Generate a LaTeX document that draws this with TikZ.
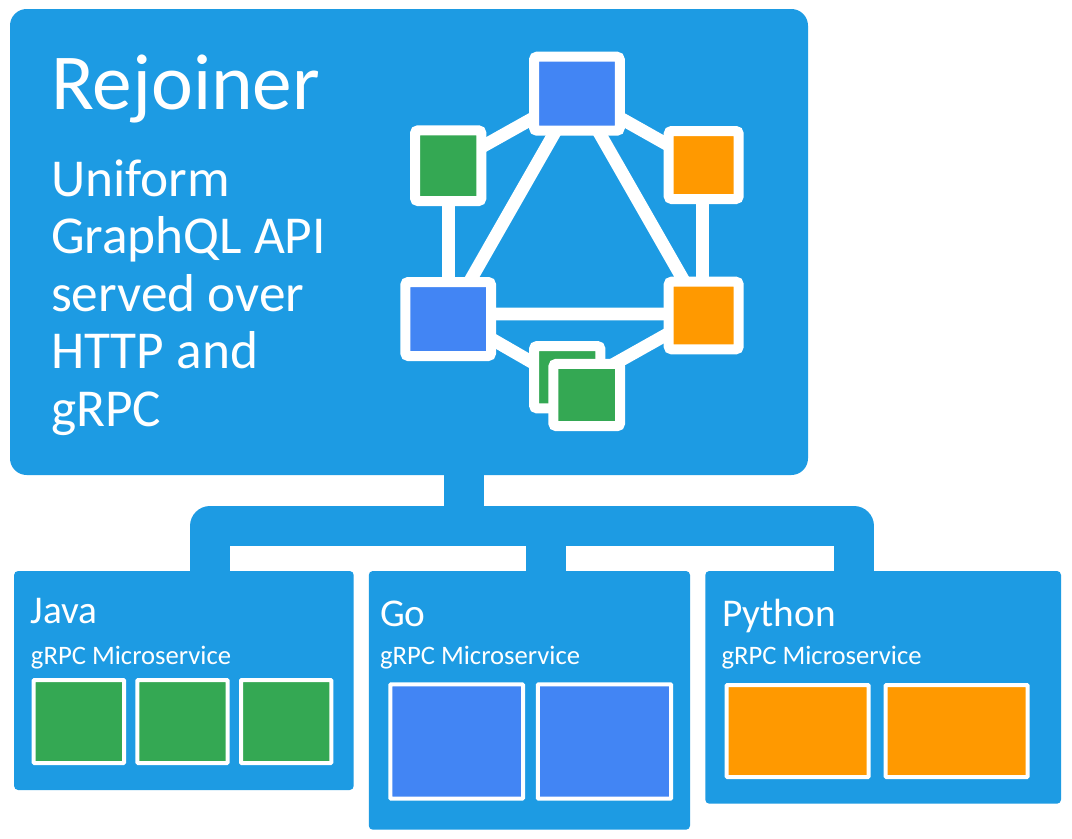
\documentclass[tikz,border=0pt]{standalone}
\usepackage{fontspec}
\setmainfont{Carlito}
\definecolor{panelblue}{HTML}{1D9BE3}
\definecolor{gblue}{HTML}{4285F4}
\definecolor{ggreen}{HTML}{34A853}
\definecolor{gorange}{HTML}{FF9900}
\pgfdeclarelayer{back}
\pgfdeclarelayer{mid}
\pgfsetlayers{back,mid,main}
\tikzset{
  px/.style 2 args={minimum width=#1*0.75pt, minimum height=#2*0.75pt},
  panel/.style={rectangle, fill=panelblue, inner sep=0pt, outer sep=0pt, rounded corners=3pt},
  sq/.style={rectangle, draw=white, line width=7.5pt, inner sep=0pt, outer sep=0pt, rounded corners=2.2pt},
  tile/.style={rectangle, draw=white, line width=3pt, inner sep=0pt, outer sep=0pt, rounded corners=0.6pt},
  edge/.style={draw=white, line width=9.6pt},
  link/.style={draw=panelblue, line width=30pt, line join=round},
  txt/.style={text=white, inner sep=0pt, outer sep=0pt, anchor=base west},
}
\begin{document}
\begin{tikzpicture}[x=0.75pt,y=-0.75pt]
\useasboundingbox (0,0) rectangle (1072,839);
\begin{pgfonlayer}{back}
  \fill[white] (0,0) rectangle (1072,839);
  \node[panel, rounded corners=12.5pt, px={798}{466}] (main) at (409,242) {};
  \node[panel, px={339.6}{219}] (java) at (183.9,680.5) {};
  \node[panel, px={321.2}{258.7}] (go) at (529.4,700.35) {};
  \node[panel, px={355.7}{232.7}] (python) at (883.15,687.35) {};
  \coordinate (jx) at (210,526);
  \coordinate (gx) at (546.3,526);
  \coordinate (hx) at (464,526);
  \coordinate (fx) at (854,526);
  \draw[link] (java.north -| jx) -- (jx) -- (fx) -- (python.north -| fx);
  \draw[link] (main.south -| hx) -- (hx);
  \draw[link] (gx) -- (go.north -| gx);
\end{pgfonlayer}

\node[sq, fill=gblue, px={85.7}{74}] (top) at (576.9,93.7) {};
\node[sq, fill=ggreen, px={66.3}{70.7}] (gl) at (448.2,165.7) {};
\node[sq, fill=gorange, px={70}{68}] (ot) at (703.7,165) {};
\node[sq, fill=gblue, px={85.7}{74}] (bl) at (448.2,319) {};
\node[sq, fill=gorange, px={70}{67.6}] (ol) at (703.7,315.5) {};
\node[sq, fill=ggreen, px={66.3}{62.3}] (gb) at (567.2,377.2) {};
\node[sq, fill=ggreen, px={66.7}{62.3}] (gf) at (586.7,395) {};

\begin{pgfonlayer}{mid}
  \draw[edge] (gl) -- (top);
  \draw[edge] (top) -- (ot);
  \draw[edge] (gl.center) -- (bl.center);
  \draw[edge] ([xshift=-1pt]ot.center) -- ([xshift=-1pt]ol.center);
  \draw[edge] (top.center) -- (bl.center);
  \draw[edge] (top.center) -- (ol.center);
  \draw[edge] ([yshift=3.75pt]bl.center) -- ([yshift=1.1pt]ol.center);
  \draw[edge] ([yshift=3.75pt]bl.center) -- ([yshift=-4pt]gb.center);
  \draw[edge] ([yshift=1.35pt]ol.center) -- ([yshift=11.7pt]gf.center);
\end{pgfonlayer}

\node[tile, fill=ggreen, px={90.3}{83}] (j1) at (78.85,721.5) {};
\node[tile, fill=ggreen, px={90.4}{83}] (j2) at (182.5,721.5) {};
\node[tile, fill=ggreen, px={90.3}{83}] (j3) at (286.15,721.5) {};
\node[tile, fill=gblue, px={132.6}{114.4}] (g1) at (456.7,741.5) {};
\node[tile, fill=gblue, px={133.2}{114.4}] (g2) at (604.5,741.5) {};
\node[tile, fill=gorange, px={141.9}{92}] (p1) at (797.55,731) {};
\node[tile, fill=gorange, px={141.9}{92}] (p2) at (956.55,731) {};

\node[txt, font=\fontsize{59.5}{60}\selectfont] (title) at (51,109) {Rejoiner};
\node[txt, font=\fontsize{40}{40}\selectfont] (d1) at (51,196) {Uniform};
\node[txt, font=\fontsize{40}{40}\selectfont] (d2) at (51,253) {GraphQL API};
\node[txt, font=\fontsize{40}{40}\selectfont] (d3) at (51,311) {served over};
\node[txt, font=\fontsize{40}{40}\selectfont] (d4) at (51,368) {HTTP and};
\node[txt, font=\fontsize{40}{40}\selectfont] (d5) at (51,426) {gRPC};
\node[txt, font=\fontsize{29.5}{30}\selectfont] (jt) at (31,623) {Java};
\node[txt, font=\fontsize{29.5}{30}\selectfont] (gt) at (380,626) {Go};
\node[txt, font=\fontsize{29.5}{30}\selectfont] (pt) at (722,626) {Python};
\node[txt, font=\fontsize{20}{20}\selectfont] (js) at (31,664) {gRPC Microservice};
\node[txt, font=\fontsize{20}{20}\selectfont] (gs) at (380,664) {gRPC Microservice};
\node[txt, font=\fontsize{20}{20}\selectfont] (ps) at (721.5,664) {gRPC Microservice};
\end{tikzpicture}
\end{document}
